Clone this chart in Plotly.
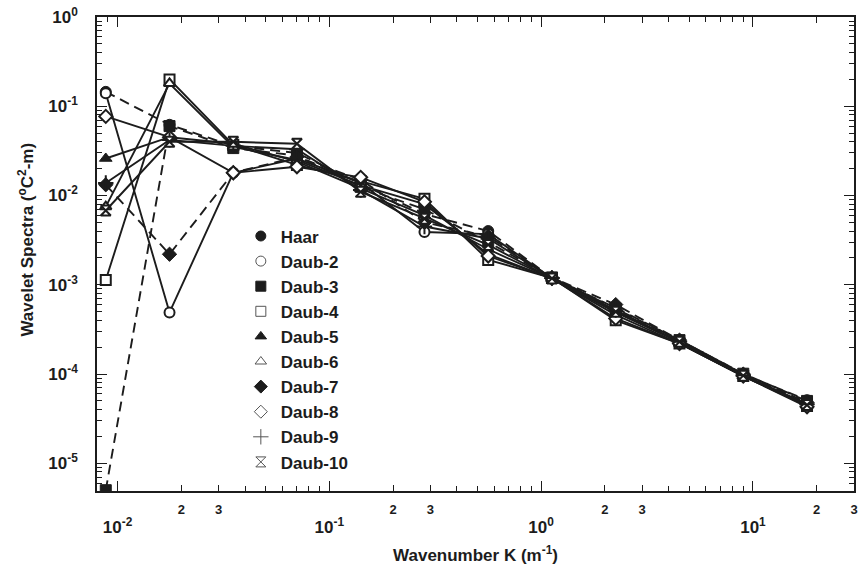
import plotly.graph_objects as go

# Wavenumber K (m^-1) of each wavelet scale
wavenumber = [0.0088, 0.0176, 0.0352, 0.0703, 0.1406, 0.2813,
              0.5625, 1.125, 2.25, 4.5, 9.0, 18.0]

# Wavelet spectra (oC^2-m) for each basis
haar   = [0.145, 0.062, 0.036, 0.030, 0.0135, 0.0062, 0.0040, 0.00120, 0.00055, 0.00024, 0.000100, 0.000051]
daub2  = [0.140, 0.00049, 0.018, 0.026, 0.0140, 0.0039, 0.0037, 0.00118, 0.00050, 0.00023, 0.000097, 0.000046]
daub3  = [5.0e-6, 0.060, 0.034, 0.028, 0.0125, 0.0070, 0.0030, 0.00121, 0.00054, 0.00024, 0.000101, 0.000050]
daub4  = [0.00113, 0.200, 0.037, 0.022, 0.0145, 0.0092, 0.0019, 0.00119, 0.00040, 0.00022, 0.000095, 0.000044]
daub5  = [0.026, 0.045, 0.038, 0.024, 0.0120, 0.0060, 0.0025, 0.00118, 0.00049, 0.00023, 0.000096, 0.000045]
daub6  = [0.0075, 0.180, 0.035, 0.025, 0.0130, 0.0080, 0.0022, 0.00117, 0.00046, 0.00022, 0.000095, 0.000044]
daub7  = [0.0132, 0.0022, 0.018, 0.027, 0.0150, 0.0050, 0.0035, 0.00120, 0.00060, 0.00024, 0.000100, 0.000048]
daub8  = [0.077, 0.045, 0.018, 0.021, 0.0160, 0.0085, 0.0021, 0.00118, 0.00042, 0.00022, 0.000095, 0.000043]
daub9  = [0.0138, 0.042, 0.036, 0.033, 0.0115, 0.0045, 0.0033, 0.00119, 0.00052, 0.00023, 0.000097, 0.000046]
daub10 = [0.0068, 0.040, 0.040, 0.038, 0.0110, 0.0055, 0.0028, 0.00118, 0.00050, 0.00023, 0.000096, 0.000045]

names = ["Haar", "Daub-2", "Daub-3", "Daub-4", "Daub-5",
         "Daub-6", "Daub-7", "Daub-8", "Daub-9", "Daub-10"]
values = [haar, daub2, daub3, daub4, daub5, daub6, daub7, daub8, daub9, daub10]

# Axis tick labels
x_decades = [0.01, 0.1, 1, 10]
x_decade_text = ["10<sup>-2</sup>", "10<sup>-1</sup>", "10<sup>0</sup>", "10<sup>1</sup>"]
x_sub = [0.02, 0.03, 0.2, 0.3, 2, 3, 20, 30]
x_sub_text = ["2", "3", "2", "3", "2", "3", "2", "3"]
y_decades = [1, 0.1, 0.01, 0.001, 0.0001, 0.00001]
y_decade_text = ["10<sup>0</sup>", "10<sup>-1</sup>", "10<sup>-2</sup>",
                 "10<sup>-3</sup>", "10<sup>-4</sup>", "10<sup>-5</sup>"]

INK = "#1c1c1c"
FONT = "Liberation Sans, Arial, Helvetica, sans-serif"

# marker symbol, filled?, line dash
styles = [
    ("circle", True, "10px,6px"),
    ("circle", False, "solid"),
    ("square", True, "10px,6px"),
    ("square", False, "solid"),
    ("triangle-up", True, "solid"),
    ("triangle-up", False, "solid"),
    ("diamond", True, "10px,6px"),
    ("diamond", False, "solid"),
    ("cross-thin-open", None, "solid"),
    ("hourglass", False, "solid"),
]

fig = go.Figure()

for name, ys, (sym, filled, dash) in zip(names, values, styles):
    if filled is None:
        marker = dict(symbol=sym, size=11, color=INK, line=dict(color=INK, width=2))
    elif filled:
        marker = dict(symbol=sym, size=11, color=INK, line=dict(color=INK, width=1))
    else:
        marker = dict(symbol=sym, size=10, color="white", line=dict(color=INK, width=2))
    fig.add_trace(go.Scatter(
        x=wavenumber, y=ys, mode="lines+markers", name=name,
        line=dict(color=INK, width=1.9, dash=dash),
        marker=marker, showlegend=False, cliponaxis=True,
    ))

# legend entries show the symbol only
for name, (sym, filled, dash) in zip(names, styles):
    if filled is None:
        marker = dict(symbol=sym, size=11, color="#555", line=dict(color="#555", width=1))
    elif filled:
        marker = dict(symbol=sym, size=10, color=INK, line=dict(color=INK, width=1))
    else:
        marker = dict(symbol=sym, size=10, color="white", line=dict(color="#555", width=1))
    fig.add_trace(go.Scatter(x=[None], y=[None], mode="markers", name=name,
                             marker=marker, showlegend=True))

# empty trace so the decade-label axis is drawn
fig.add_trace(go.Scatter(x=[None], y=[None], xaxis="x2", yaxis="y",
                         mode="markers", showlegend=False, hoverinfo="skip"))

# minor tick positions (2..9 in every decade)
x_minor = [m * 10 ** e for e in range(-3, 2) for m in range(2, 10)]
y_minor = [m * 10 ** e for e in range(-6, 0) for m in range(2, 10)]

XRANGE = [-2.0969, 1.4771]
YRANGE = [-5.31, 0]

fig.update_layout(
    width=863, height=568,
    margin=dict(l=97, r=5, t=17, b=77),
    paper_bgcolor="white", plot_bgcolor="white",
    font=dict(family=FONT, color=INK, size=17, weight="bold"),
    xaxis=dict(
        type="log", range=XRANGE,
        tickmode="array", tickvals=x_sub, ticktext=x_sub_text,
        tickfont=dict(size=13, family=FONT, weight="bold"),
        ticks="inside", ticklen=6, tickwidth=1, tickcolor=INK,
        minor=dict(tickmode="array", tickvals=x_minor, ticks="inside",
                   ticklen=5, tickwidth=1, tickcolor=INK),
        showline=True, linecolor=INK, linewidth=1.5, mirror="ticks",
        showgrid=False, zeroline=False, ticklabelstandoff=6,
        title=dict(text="Wavenumber K (m<sup>-1</sup>)", standoff=33,
                   font=dict(size=17, family=FONT, weight="bold")),
    ),
    xaxis2=dict(
        type="log", range=XRANGE, overlaying="x", side="bottom",
        anchor="y",
        tickmode="array", tickvals=x_decades, ticktext=x_decade_text,
        tickfont=dict(size=17, family=FONT, weight="bold"),
        ticks="inside", ticklen=10, tickwidth=1, tickcolor=INK,
        showline=False, mirror="ticks", showgrid=False, zeroline=False,
        ticklabelstandoff=24,
    ),
    yaxis=dict(
        type="log", range=YRANGE,
        tickmode="array", tickvals=y_decades, ticktext=y_decade_text,
        tickfont=dict(size=17, family=FONT, weight="bold"),
        ticks="inside", ticklen=10, tickwidth=1, tickcolor=INK,
        minor=dict(tickmode="array", tickvals=y_minor, ticks="inside",
                   ticklen=5, tickwidth=1, tickcolor=INK),
        showline=True, linecolor=INK, linewidth=1.5, mirror="ticks",
        showgrid=False, zeroline=False, ticklabelstandoff=14,
    ),
    legend=dict(
        x=0.19, y=0.575, xanchor="left", yanchor="top",
        bgcolor="rgba(0,0,0,0)", borderwidth=0,
        font=dict(size=17, family=FONT, color=INK, weight="bold"),
        itemwidth=30, tracegroupgap=0,
    ),
    annotations=[dict(
        text="Wavelet Spectra (<sup>o</sup>C<sup>2</sup>-m)",
        xref="paper", yref="paper", x=-0.094, y=0.53,
        xanchor="center", yanchor="middle", textangle=-90, showarrow=False,
        font=dict(size=17, family=FONT, color=INK, weight="bold"),
    )],
)

fig.write_html("out.html")
